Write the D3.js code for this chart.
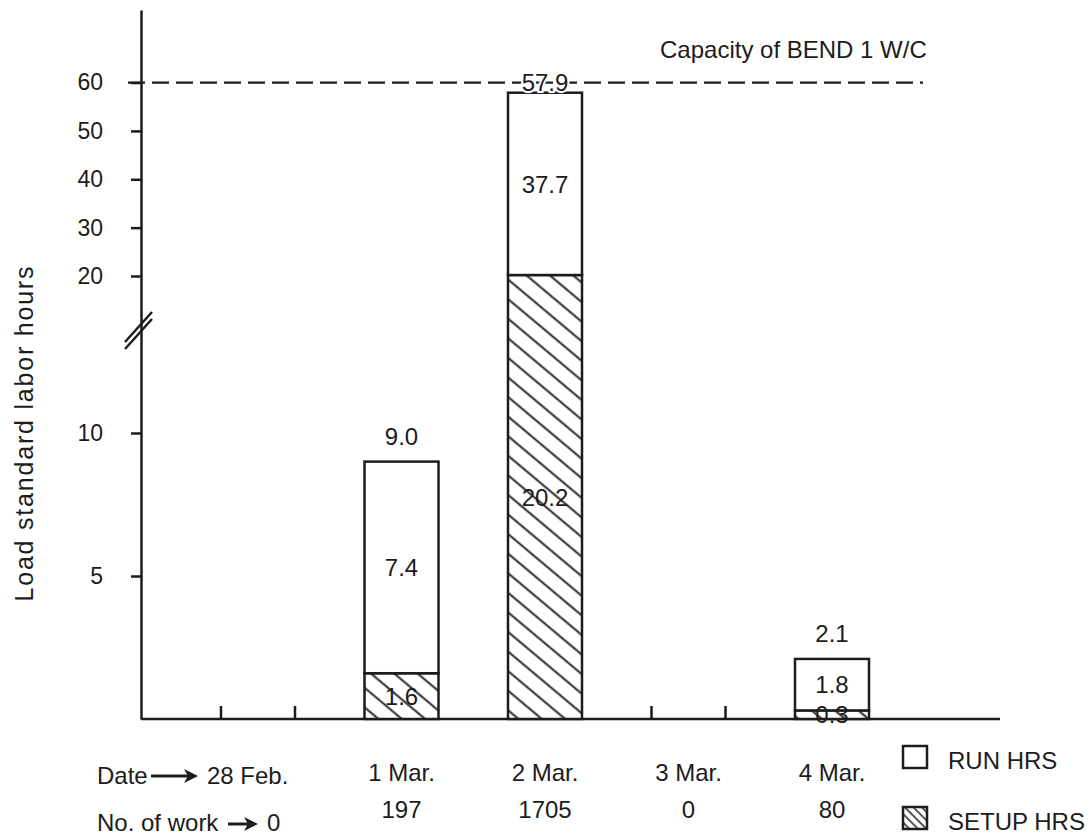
<!DOCTYPE html>
<html>
<head>
<meta charset="utf-8">
<script src="https://cdn.jsdelivr.net/npm/d3@7"></script>
<style>
  body { margin: 0; background: #ffffff; }
  svg text { font-family: "Liberation Sans", Arial, Helvetica, sans-serif; fill: #1c1c1c; }
</style>
</head>
<body>
<svg id="chartLoad" width="1090" height="839"></svg>
<script>
// data
var dates = ["28 Feb.", "1 Mar.", "2 Mar.", "3 Mar.", "4 Mar."];
var noOfWork = [0, 197, 1705, 0, 80];
var setupHrs = [0, 1.6, 20.2, 0, 0.3];
var runHrs = [0, 7.4, 37.7, 0, 1.8];
var totalHrs = [0, 9.0, 57.9, 0, 2.1];
var yTickValues = [5, 10, 20, 30, 40, 50, 60];
var capacity = 60;
var capacityLabel = "Capacity of BEND 1 W/C";
var legendLabels = ["RUN HRS", "SETUP HRS"];

var ink = "#1c1c1c";
var svg = d3.select("#chartLoad");

// hatch patterns for the setup hours
var defs = svg.append("defs");
function hatch(id, step, angle, width) {
    var p = defs.append("pattern")
        .attr("id", id)
        .attr("patternUnits", "userSpaceOnUse")
        .attr("width", 10)
        .attr("height", step)
        .attr("patternTransform", "rotate(" + angle + ")");
    p.append("rect").attr("width", 10).attr("height", step).attr("fill", "#fff");
    p.append("line")
        .attr("x1", 0).attr("x2", 10)
        .attr("y1", step / 2).attr("y2", step / 2)
        .attr("stroke", ink)
        .attr("stroke-width", width);
}
hatch("hatchBar", 15, 40, 1.9);
hatch("hatchLegend", 6, 45, 1.5);

// broken y scale: 0-10 stretched, 20-60 compressed
var y = d3.scaleLinear()
    .domain([0, 10, 20, 75])
    .range([719, 433, 276, 10]);

var x = d3.scalePoint()
    .domain(dates)
    .range([258, 832]);

var axisX = 141;
var barW = 74;

// y axis
var gy = svg.append("g")
    .attr("transform", "translate(" + axisX + ",0)")
    .call(d3.axisLeft(y).tickValues(yTickValues).tickSizeInner(10).tickSizeOuter(0).tickPadding(28).tickFormat(d3.format("d")));
gy.select(".domain").attr("stroke", ink).attr("stroke-width", 2.5);
gy.selectAll(".tick line").attr("stroke", ink).attr("stroke-width", 2.5);
gy.selectAll(".tick text").attr("font-size", 23).attr("fill", ink)
    .attr("font-family", "Liberation Sans, Arial, sans-serif");

// axis break marks
var breakY = y(20) + 55;
[0, 7].forEach(function (o) {
    svg.append("line")
        .attr("x1", axisX - 16).attr("y1", breakY + 18 - o)
        .attr("x2", axisX + 11).attr("y2", breakY - 12 - o)
        .attr("stroke", ink).attr("stroke-width", 2.5);
});

// x axis line
svg.append("line")
    .attr("x1", axisX).attr("x2", 1000)
    .attr("y1", y(0)).attr("y2", y(0))
    .attr("stroke", ink).attr("stroke-width", 2.5);

// small ticks where no bar was drawn
dates.forEach(function (d, i) {
    if (totalHrs[i] === 0) {
        [-1, 1].forEach(function (s) {
            svg.append("line")
                .attr("x1", x(d) + s * barW / 2).attr("x2", x(d) + s * barW / 2)
                .attr("y1", y(0)).attr("y2", y(0) - 13)
                .attr("stroke", ink).attr("stroke-width", 2.5);
        });
    }
});

// capacity line
svg.append("line")
    .attr("x1", axisX - 13).attr("x2", 923)
    .attr("y1", y(capacity)).attr("y2", y(capacity))
    .attr("stroke", ink).attr("stroke-width", 2.2)
    .attr("stroke-dasharray", "17,7");
svg.append("text")
    .attr("x", 660).attr("y", 58)
    .attr("font-size", 24)
    .text(capacityLabel);

// stacked bars: setup at the bottom, run on top
var bars = svg.append("g");
dates.forEach(function (d, i) {
    if (totalHrs[i] === 0) return;
    bars.append("rect")
        .attr("x", x(d) - barW / 2).attr("width", barW)
        .attr("y", y(setupHrs[i])).attr("height", y(0) - y(setupHrs[i]))
        .attr("fill", "url(#hatchBar)")
        .attr("stroke", ink).attr("stroke-width", 2.5);
    bars.append("rect")
        .attr("x", x(d) - barW / 2).attr("width", barW)
        .attr("y", y(totalHrs[i])).attr("height", y(setupHrs[i]) - y(totalHrs[i]))
        .attr("fill", "#fff")
        .attr("stroke", ink).attr("stroke-width", 2.5);

    // value labels
    var mid = function (a, b) { return (y(a) + y(b)) / 2; };
    bars.append("text")
        .attr("x", x(d)).attr("y", mid(0, setupHrs[i])).attr("dy", "0.36em")
        .attr("text-anchor", "middle").attr("font-size", 24)
        .text(setupHrs[i].toFixed(1));
    bars.append("text")
        .attr("x", x(d)).attr("y", mid(setupHrs[i], totalHrs[i])).attr("dy", "0.36em")
        .attr("text-anchor", "middle").attr("font-size", 24)
        .text(runHrs[i].toFixed(1));
    var ty = y(totalHrs[i]) - 17;
    if (ty < y(capacity) + 4) ty = y(totalHrs[i]) - 2;   // no room under the capacity line
    bars.append("text")
        .attr("x", x(d)).attr("y", ty)
        .attr("text-anchor", "middle").attr("font-size", 24)
        .attr("stroke", "#fff").attr("stroke-width", 4).attr("paint-order", "stroke")
        .text(totalHrs[i].toFixed(1));
});

// y axis title
svg.append("text")
    .attr("transform", "translate(33,434) rotate(-90)")
    .attr("text-anchor", "middle")
    .attr("font-size", 25)
    .attr("textLength", 335).attr("lengthAdjust", "spacing")
    .text("Load standard labor hours");

// arrow drawn with a thick shaft and a filled head
function arrow(x1, x2, yy) {
    svg.append("line")
        .attr("x1", x1).attr("x2", x2 - 10)
        .attr("y1", yy).attr("y2", yy)
        .attr("stroke", ink).attr("stroke-width", 3);
    svg.append("path")
        .attr("d", "M" + (x2 - 14) + "," + (yy - 7) + " L" + x2 + "," + yy + " L" + (x2 - 14) + "," + (yy + 7) + " L" + (x2 - 10) + "," + yy + " Z")
        .attr("fill", ink);
}

// date row
var row1 = 781, row2 = 818;
svg.append("text").attr("x", 97).attr("y", row1 + 3).attr("font-size", 24).text("Date");
arrow(151, 198, row1 - 5);
dates.forEach(function (d, i) {
    svg.append("text")
        .attr("x", i === 0 ? 207 : x(d)).attr("y", i === 0 ? row1 + 3 : row1)
        .attr("text-anchor", i === 0 ? "start" : "middle")
        .attr("font-size", 24)
        .text(d);
});

// number of work row
svg.append("text").attr("x", 97).attr("y", row2 + 13).attr("font-size", 24).text("No. of work");
arrow(228, 258, row2 + 6);
noOfWork.forEach(function (v, i) {
    svg.append("text")
        .attr("x", i === 0 ? 267 : x(dates[i])).attr("y", i === 0 ? row2 + 13 : row2)
        .attr("text-anchor", i === 0 ? "start" : "middle")
        .attr("font-size", 24)
        .text(v);
});

// legend
var legendY = [746, 807];
legendLabels.forEach(function (l, i) {
    svg.append("rect")
        .attr("x", 903).attr("y", legendY[i])
        .attr("width", 24).attr("height", 22)
        .attr("fill", i === 0 ? "#fff" : "url(#hatchLegend)")
        .attr("stroke", ink).attr("stroke-width", 2.5);
    svg.append("text")
        .attr("x", 948).attr("y", legendY[i] + 23)
        .attr("font-size", 24)
        .text(l);
});
</script>
</body>
</html>
